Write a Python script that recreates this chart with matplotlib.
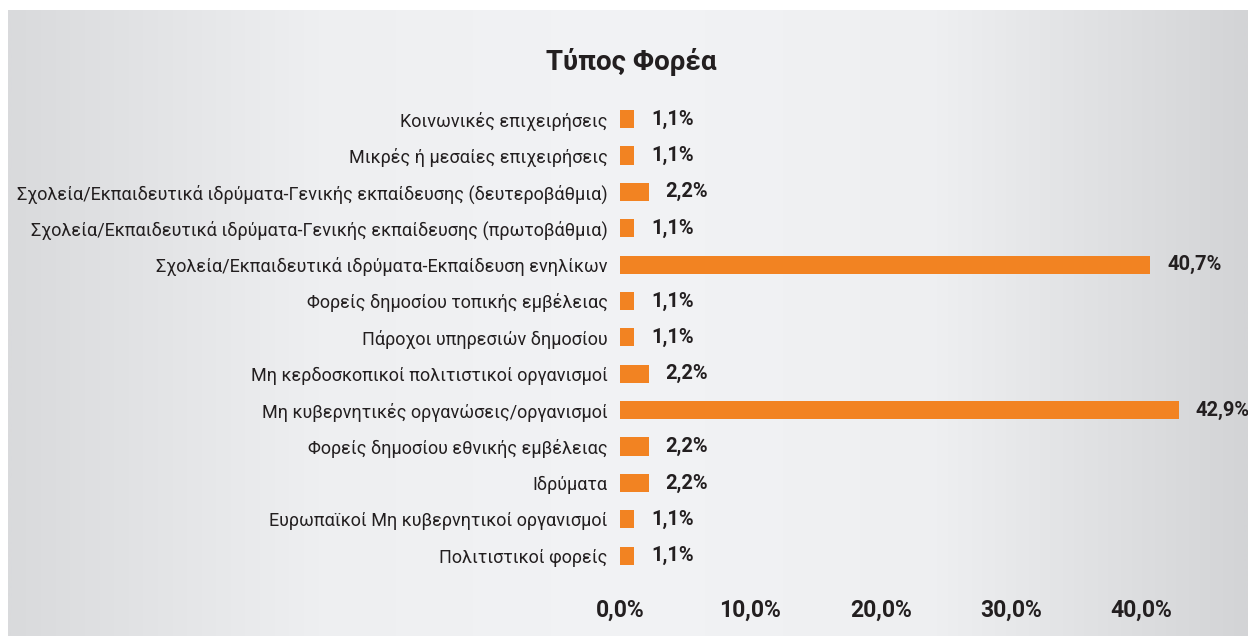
import numpy as np
import matplotlib
matplotlib.use("Agg")
import matplotlib.pyplot as plt
from matplotlib.colors import LinearSegmentedColormap

plt.rcParams['font.family'] = ['Roboto', 'DejaVu Sans']

categories = [
    "Κοινωνικές επιχειρήσεις",
    "Μικρές ή μεσαίες επιχειρήσεις",
    "Σχολεία/Εκπαιδευτικά ιδρύματα-Γενικής εκπαίδευσης (δευτεροβάθμια)",
    "Σχολεία/Εκπαιδευτικά ιδρύματα-Γενικής εκπαίδευσης (πρωτοβάθμια)",
    "Σχολεία/Εκπαιδευτικά ιδρύματα-Εκπαίδευση ενηλίκων",
    "Φορείς δημοσίου τοπικής εμβέλειας",
    "Πάροχοι υπηρεσιών δημοσίου",
    "Μη κερδοσκοπικοί πολιτιστικοί οργανισμοί",
    "Μη κυβερνητικές οργανώσεις/οργανισμοί",
    "Φορείς δημοσίου εθνικής εμβέλειας",
    "Ιδρύματα",
    "Ευρωπαϊκοί Μη κυβερνητικοί οργανισμοί",
    "Πολιτιστικοί φορείς",
]
values = [1.1, 1.1, 2.2, 1.1, 40.7, 1.1, 1.1, 2.2, 42.9, 2.2, 2.2, 1.1, 1.1]
xticks = [0, 10, 20, 30, 40]
title = "Τύπος Φορέα"

orange = "#f28322"
dark = "#231f20"

fig = plt.figure(figsize=(12.48, 6.36), dpi=100)

# grey panel with horizontal gradient
bg = fig.add_axes([8 / 1248, 0, 1 - 8 / 1248, 1 - 10 / 636], zorder=-10)
cmap = LinearSegmentedColormap.from_list(
    "bg", ["#d9dadc", "#eeeff1", "#f2f3f5", "#eeeff1", "#d3d4d6"])
bg.imshow(np.linspace(0, 1, 512)[None, :], aspect="auto", cmap=cmap,
          extent=[0, 1, 0, 1])
bg.axis("off")

ax = fig.add_axes([0.4968, 0.0975, 0.4752, 0.744])
ax.patch.set_alpha(0)
y = np.arange(len(categories))
ax.barh(y, values, height=0.5, color=orange)
ax.set_xlim(0, 45.5)
ax.set_ylim(len(categories) - 0.5, -0.5)

ax.set_yticks(y)
ax.set_yticklabels(categories, fontsize=13, color=dark)
ax.set_xticks(xticks)
ax.set_xticklabels([f"{t:.1f}".replace(".", ",") + "%" for t in xticks],
                   fontsize=16.5, fontweight="bold", color=dark)
ax.tick_params(axis="y", length=0, pad=9)
ax.tick_params(axis="x", length=0, pad=18)
for s in ax.spines.values():
    s.set_visible(False)

for yi, v in zip(y, values):
    ax.annotate(f"{v:.1f}".replace(".", ",") + "%", (v, yi),
                xytext=(12, 0), textcoords="offset points",
                va="center", ha="left", fontsize=14.5, fontweight="bold",
                color=dark)

fig.text(0.506, 0.9025, title, ha="center", va="center",
         fontsize=20, fontweight="bold", color=dark)

fig.savefig("out.png", dpi=100)
